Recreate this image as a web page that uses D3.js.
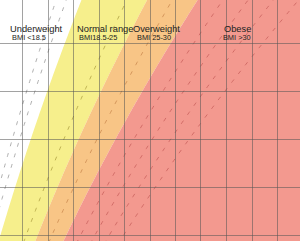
<!DOCTYPE html>
<html>
<head>
<meta charset="utf-8">
<script src="https://cdn.jsdelivr.net/npm/d3@7"></script>
<style>
  html, body { margin: 0; padding: 0; background: #fff; overflow: hidden; }
  svg { display: block; }
</style>
</head>
<body>
<svg id="chart" width="300" height="241"></svg>
<script>
// ---- data ----
const categories = ["Underweight", "Normal range", "Overweight", "Obese"];
const categoryRanges = ["BMI <18.5", "BMI18.5-25", "BMI 25-30", "BMI >30"];
const bmiBounds = [18.5, 25, 30];              // category boundaries
const bandColors = ["#ffffff", "#f6ef8c", "#f8c586", "#f3998f"];
const dashedBMI = [16, 17, 23, 27.5, 32.5, 35, 37.5, 40];   // additional cut-off points
const weightTicks = [50, 60, 70, 80, 90, 100, 110, 120, 130, 140, 150];   // kg
const heightTicks = [150, 160, 170, 180, 190];                            // cm
const labelWeights = [45.3, 71.6, 93.5, 129.2];     // kg, where each label starts
const rangeWeights = [46.1, 72.4, 95.1, 128.8];

// ---- layout ----
const W = 300, H = 241;
const svg = d3.select("#chart");
const x = d3.scaleLinear().domain([50, 150]).range([22, 277]);
const y = d3.scaleLinear().domain([150, 190]).range([234.5, 43.3]);

const hMin = y.invert(H + 20), hMax = y.invert(-20);
const heights = d3.range(Math.floor(hMin), Math.ceil(hMax) + 1, 0.5);
const wOf = (bmi, hcm) => bmi * (hcm / 100) * (hcm / 100);

svg.append("rect").attr("width", W).attr("height", H).attr("fill", bandColors[0]);

bmiBounds.forEach((lo, i) => {
  const hi = i + 1 < bmiBounds.length ? bmiBounds[i + 1] : null;
  const area = d3.area()
    .y(h => y(h))
    .x0(h => x(wOf(lo, h)))
    .x1(h => hi == null ? W + 50 : x(wOf(hi, h)));
  svg.append("path").datum(heights).attr("d", area).attr("fill", bandColors[i + 1]);
});

// dashed BMI lines
const line = bmi => d3.line().x(h => x(wOf(bmi, h))).y(h => y(h));
svg.append("g").selectAll("path").data(dashedBMI).join("path")
  .attr("d", b => line(b)(heights))
  .attr("fill", "none")
  .attr("stroke", b => b < 18.5 ? "#9a9a9a" : (b < 25 ? "#b0a244" : (b < 30 ? "#cc8a50" : "#c9615d")))
  .attr("stroke-width", 0.8)
  .attr("stroke-dasharray", "4,7");

// grid
const grid = svg.append("g").attr("stroke", "#555").attr("stroke-opacity", 0.55).attr("stroke-width", 1);
grid.selectAll("line.v").data(weightTicks).join("line").attr("class", "v")
  .attr("x1", d => Math.round(x(d)) + 0.5).attr("x2", d => Math.round(x(d)) + 0.5)
  .attr("y1", 0).attr("y2", H);
grid.selectAll("line.h").data(heightTicks).join("line").attr("class", "h")
  .attr("y1", d => Math.round(y(d)) + 0.5).attr("y2", d => Math.round(y(d)) + 0.5)
  .attr("x1", 0).attr("x2", W);

// labels
const lab = svg.append("g").attr("font-family", "'Liberation Sans', Arial, sans-serif").attr("fill", "#222");
lab.selectAll("text.cat").data(categories).join("text").attr("class", "cat")
  .attr("x", (d, i) => x(labelWeights[i])).attr("y", 32)
  .attr("font-size", 9.3).text(d => d);
lab.selectAll("text.rng").data(categoryRanges).join("text").attr("class", "rng")
  .attr("x", (d, i) => x(rangeWeights[i])).attr("y", 40)
  .attr("font-size", 7.4).text(d => d);
</script>
</body>
</html>
